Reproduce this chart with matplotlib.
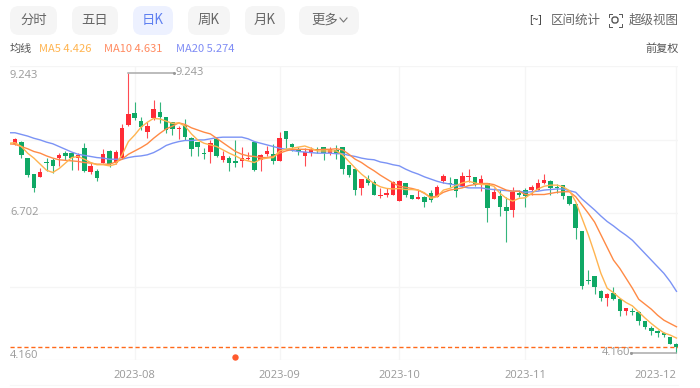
import numpy as np
import matplotlib
matplotlib.use("Agg")
import matplotlib.pyplot as plt
from matplotlib.patches import FancyBboxPatch

plt.rcParams['font.family'] = ['Noto Sans CJK SC', 'DejaVu Sans']

# Candles: top and bottom of the body, high, low, and up (red) flag
body_top = [8.03,7.99,7.69,7.40,7.44,7.62,7.66,7.74,7.78,7.78,7.75,7.87,7.55,7.46,7.77,7.82,7.80,8.23,8.49,8.50,8.37,8.28,8.58,8.53,8.43,8.34,
            8.23,8.29,8.06,7.99,7.79,7.96,8.03,7.73,7.70,7.64,7.69,7.69,7.99,7.74,7.82,7.76,8.06,8.18,7.94,7.84,7.81,7.84,7.85,7.89,7.85,7.84,7.89,7.56,
            7.49,7.31,7.32,7.25,7.02,7.06,7.26,7.28,7.24,7.03,6.98,6.99,7.05,7.17,7.37,7.24,7.31,7.37,7.37,7.34,7.32,7.24,7.08,7.00,6.80,7.08,7.05,
            7.11,7.16,7.24,7.29,7.28,7.16,7.20,7.00,6.86,6.37,5.48,5.55,5.28,5.22,5.24,5.13,4.98,4.92,4.90,4.73,4.60,4.55,4.52,4.44,4.31]
body_bot = [7.95,7.75,7.38,7.14,7.35,7.60,7.55,7.69,7.73,7.70,7.70,7.46,7.43,7.33,7.61,7.58,7.60,7.69,8.29,8.42,8.26,8.17,8.42,8.44,8.20,8.21,
            8.21,8.07,7.85,7.89,7.76,7.81,7.72,7.66,7.61,7.61,7.64,7.67,7.47,7.66,7.76,7.64,7.64,8.03,7.89,7.82,7.72,7.80,7.83,7.79,7.78,7.76,7.49,7.38,
            7.12,7.14,7.23,7.02,7.00,7.03,7.02,6.92,7.03,6.95,6.95,6.89,6.93,6.99,7.28,7.22,7.10,7.18,7.34,7.22,7.22,6.79,6.95,6.80,6.73,6.75,7.03,
            7.00,7.12,7.12,7.24,7.15,7.14,7.01,6.86,6.43,5.37,5.46,5.35,5.15,5.15,5.13,4.91,4.92,4.89,4.73,4.63,4.55,4.52,4.48,4.31,4.27]
highs = [8.05,8.00,7.69,7.40,7.51,7.69,7.69,7.79,7.82,7.81,7.78,7.96,7.62,7.50,7.85,7.84,7.84,8.30,9.243,8.71,8.44,8.35,8.74,8.71,8.44,8.35,
         8.27,8.40,8.08,7.99,7.87,8.01,8.05,7.82,7.73,8.02,7.90,7.81,8.00,7.76,7.91,7.94,8.16,8.18,7.97,7.89,7.87,7.90,7.90,7.90,7.90,7.93,7.90,7.56,
         7.50,7.32,7.38,7.29,7.14,7.14,7.28,7.29,7.24,7.03,7.12,7.00,7.12,7.20,7.40,7.35,7.32,7.44,7.49,7.35,7.38,7.24,7.14,7.11,6.98,7.17,7.11,
         7.15,7.20,7.31,7.40,7.29,7.22,7.21,7.00,6.87,6.37,5.66,5.55,5.30,5.24,5.36,5.13,4.98,4.97,4.92,4.73,4.64,4.57,4.54,4.44,4.34]
lows = [7.93,7.69,7.35,7.07,7.35,7.46,7.42,7.55,7.66,7.47,7.47,7.43,7.40,7.28,7.60,7.53,7.58,7.67,8.27,8.38,8.20,8.05,8.39,8.32,8.15,8.11,
        8.03,8.02,7.73,7.73,7.67,7.61,7.71,7.62,7.46,7.52,7.53,7.66,7.46,7.46,7.72,7.58,7.64,7.87,7.82,7.75,7.55,7.73,7.78,7.66,7.75,7.67,7.41,7.34,
        7.02,7.02,7.20,7.02,6.96,6.99,7.02,6.92,6.99,6.95,6.95,6.81,6.90,6.98,7.23,7.17,6.98,7.17,7.26,7.18,7.10,6.53,6.94,6.64,6.16,6.62,6.99,
        6.81,7.02,7.11,7.22,7.02,7.05,6.94,6.84,6.23,5.32,5.41,5.22,5.10,5.01,5.12,4.83,4.84,4.84,4.66,4.59,4.49,4.45,4.44,4.31,4.16]
up_days = [0,4,7,10,12,14,16,17,18,21,22,26,31,33,36,37,39,40,42,46,47,50,55,58,59,60,61,64,67,68,71,72,74,76,79,82,83,84,94,97]

# Moving averages; the first value belongs to the session before the first candle
ma5 = [7.96,7.97,7.90,7.78,7.69,7.58,7.47,7.43,7.50,7.60,7.70,7.72,7.67,7.61,7.57,7.57,7.55,7.58,7.75,7.99,8.11,8.25,8.34,8.41,8.40,8.36,8.32,
       8.33,8.27,8.13,8.02,7.96,7.93,7.90,7.84,7.78,7.73,7.67,7.64,7.61,7.67,7.69,7.70,7.82,7.85,7.87,7.89,7.91,7.87,7.82,7.82,7.82,7.82,7.75,7.63,
       7.51,7.40,7.31,7.23,7.17,7.14,7.13,7.14,7.12,7.12,7.11,7.06,6.96,6.99,7.11,7.14,7.19,7.24,7.27,7.24,7.21,7.21,7.18,7.05,6.96,6.91,6.96,
       6.97,7.05,7.13,7.18,7.20,7.20,7.17,7.10,6.90,6.60,6.30,5.96,5.60,5.33,5.25,5.15,5.07,5.01,4.90,4.79,4.69,4.60,4.52,4.48,4.426]
ma10 = [7.95,7.94,7.90,7.86,7.81,7.78,7.73,7.69,7.66,7.65,7.64,7.63,7.61,7.60,7.58,7.58,7.58,7.62,7.67,7.76,7.82,7.88,7.95,8.05,8.14,8.22,8.27,
        8.33,8.30,8.24,8.20,8.16,8.13,8.05,7.97,7.89,7.81,7.76,7.73,7.72,7.70,7.70,7.72,7.78,7.82,7.85,7.85,7.85,7.84,7.84,7.85,7.85,7.86,7.84,7.76,
        7.67,7.61,7.53,7.46,7.38,7.31,7.24,7.18,7.16,7.14,7.11,7.05,6.98,7.00,7.07,7.11,7.13,7.15,7.19,7.21,7.23,7.23,7.21,7.16,7.11,7.09,7.09,
        7.03,7.03,7.03,7.03,7.05,7.07,7.08,7.08,6.99,6.84,6.69,6.53,6.30,6.07,5.84,5.69,5.51,5.33,5.13,5.04,4.95,4.84,4.75,4.69,4.631]
ma20 = [8.15,8.15,8.12,8.09,8.05,8.02,7.98,7.95,7.90,7.85,7.80,7.76,7.74,7.72,7.70,7.69,7.67,7.67,7.67,7.70,7.72,7.73,7.75,7.79,7.85,7.92,7.96,
        7.99,8.01,8.01,8.02,8.02,8.04,8.06,8.07,8.07,8.07,8.07,8.04,7.99,7.96,7.93,7.90,7.87,7.85,7.83,7.81,7.80,7.79,7.78,7.78,7.78,7.77,7.77,7.74,
        7.72,7.69,7.67,7.66,7.62,7.60,7.57,7.55,7.49,7.44,7.40,7.35,7.31,7.27,7.24,7.22,7.20,7.17,7.15,7.15,7.15,7.13,7.12,7.11,7.10,7.09,7.09,
        7.07,7.08,7.09,7.11,7.12,7.13,7.13,7.10,7.07,6.95,6.85,6.75,6.64,6.54,6.46,6.37,6.29,6.20,6.08,5.96,5.84,5.72,5.60,5.45,5.274]

tick_idx = [19, 42, 61, 81, 105]
tick_labels = ['2023-08', '2023-09', '2023-10', '2023-11', '2023-12']
high_price = 9.243
low_price = 4.160
mid_price = 6.702
last_close = 4.27
marker_idx = 35
marker_price = 4.08
buttons = ['分时', '五日', '日K', '周K', '月K', '更多']

RED, GREEN = '#ff2b35', '#0fa865'
C5, C10, C20 = '#ffb450', '#ff8a45', '#7b93f5'
GRID = '#f5f5f5'
TXT = '#999999'
NUM_FONT = ['Open Sans', 'DejaVu Sans']

fig = plt.figure(figsize=(7, 3.88), dpi=100, facecolor='white')
W, H = 700.0, 388.0

# interface layer in pixel units
ui = fig.add_axes([0, 0, 1, 1], zorder=0)
ui.set_xlim(0, W)
ui.set_ylim(H, 0)
ui.axis('off')

boxes = [(10, 47), (72, 46), (133, 40), (188, 42), (245, 40), (299, 60)]
for lab, (bx, bw) in zip(buttons, boxes):
    active = lab == '日K'
    ui.add_patch(FancyBboxPatch((bx, 6), bw, 29, boxstyle='round,pad=0,rounding_size=9',
                                fc='#edf1ff' if active else '#f5f5f5', ec='none'))
    tx = bx + bw / 2 if lab != '更多' else bx + 12
    ui.text(tx, 20, lab, fontsize=9.6, color='#5f80f0' if active else '#666666',
            ha='center' if lab != '更多' else 'left', va='center')
ui.plot([340, 343.5, 347], [18, 22, 18], color='#777777', lw=0.8)

ui.text(10, 49, '均线', fontsize=8, color='#555555', va='center')
ui.text(39, 49, 'MA5 4.426', fontsize=8, color=C5, va='center')
ui.text(104, 49, 'MA10 4.631', fontsize=8, color='#ff8a60', va='center')
ui.text(176, 49, 'MA20 5.274', fontsize=8, color='#7f8cf5', va='center')
ui.text(679, 49, '前复权', fontsize=8, color='#555555', va='center', ha='right')
ui.text(551, 20, '区间统计', fontsize=9, color='#666666', va='center')
ui.text(629, 20, '超级视图', fontsize=9, color='#666666', va='center')
ui.text(536, 20, '[~]', fontsize=7.5, color='#333333', va='center', ha='center', family=NUM_FONT)
ui.add_patch(FancyBboxPatch((612, 17), 6, 6, boxstyle='round,pad=0,rounding_size=2.5',
                            fc='none', ec='#444444', lw=0.9))
for sx, sy in [(-1, -1), (1, -1), (-1, 1), (1, 1)]:
    ui.plot([615 + sx * 6.5, 615 + sx * 6.5, 615 + sx * 3.5], [20 + sy * 3.5, 20 + sy * 6.5, 20 + sy * 6.5],
            color='#555555', lw=0.7)
ui.plot([10, 678], [385, 385], color='#f7f7f7', lw=0.8)

# chart
ax = fig.add_axes([10 / W, 1 - 360 / H, 668 / W, 294 / H], zorder=1)
ax.patch.set_alpha(0)
idx = np.arange(len(body_top))
ma_x = np.arange(-1, len(body_top))
ax.set_xlim(-0.794, 105.24)
ax.set_ylim(4.028, 9.361)
for s in ax.spines.values():
    s.set_visible(False)

ax.set_yticks(np.linspace(4.028, 9.361, 5))
ax.set_yticklabels([])
ax.set_xticks(tick_idx)
ax.set_xticklabels(tick_labels, fontsize=8, color=TXT, family=NUM_FONT)
ax.get_xticklabels()[-1].set_ha('right')
ax.tick_params(length=0, pad=7)
ax.grid(True, color=GRID, lw=0.9, zorder=0)
ax.set_axisbelow(True)

colors = [RED if i in up_days else GREEN for i in idx]
ax.vlines(idx, lows, highs, colors=colors, lw=0.8, alpha=0.85, zorder=2)
ax.bar(idx, np.array(body_top) - np.array(body_bot), bottom=body_bot, width=0.72,
       color=colors, lw=0, zorder=3)

ax.plot(ma_x, ma20, color=C20, lw=1.0, zorder=4)
ax.plot(ma_x, ma10, color=C10, lw=1.0, zorder=5)
ax.plot(ma_x, ma5, color=C5, lw=1.0, zorder=6)

ax.plot(ax.get_xlim(), [last_close, last_close], color='#ff6a1a', lw=1, dashes=(3, 2), zorder=7)
ax.plot([marker_idx], [marker_price], 'o', color='#ff5a2d', ms=4.6, mew=0, zorder=7)

# axis price labels
trans = ax.get_yaxis_transform()
ax.text(0, high_price - 0.06, f'{high_price:.3f}', transform=trans, fontsize=8, color=TXT, va='center', family=NUM_FONT)
ax.text(0, mid_price, f'{mid_price:.3f}', transform=trans, fontsize=8, color=TXT, va='center', family=NUM_FONT)
ax.text(0, low_price - 0.05, f'{low_price:.3f}', transform=trans, fontsize=8, color=TXT, va='center', family=NUM_FONT)

# extreme labels
hi_i = int(np.argmax(highs))
ax.plot([hi_i, hi_i + 7.3], [high_price, high_price], color='#aaaaaa', lw=1.1, zorder=2)
ax.plot([hi_i + 7.3], [high_price], 'o', color='#999999', ms=2.2, mew=0, zorder=2)
ax.text(hi_i + 7.5, high_price, f'{high_price:.3f}', fontsize=8, color=TXT, va='center', family=NUM_FONT)
lo_i = int(np.argmin(lows))
ax.plot([lo_i, lo_i - 7.2], [low_price, low_price], color='#aaaaaa', lw=1.1, zorder=2)
ax.plot([lo_i - 7.2], [low_price], 'o', color='#999999', ms=2.2, mew=0, zorder=2)
ax.text(lo_i - 7.4, low_price, f'{low_price:.3f}', fontsize=8, color=TXT, va='center', ha='right', family=NUM_FONT)

fig.savefig('out.png', dpi=100)
